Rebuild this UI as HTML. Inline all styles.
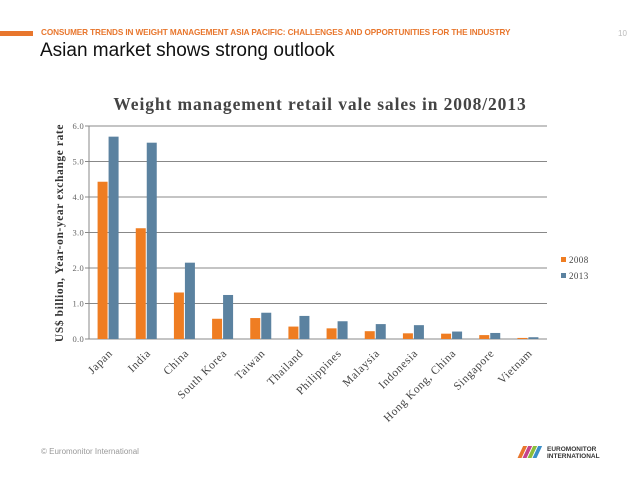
<!DOCTYPE html>
<html><head><meta charset="utf-8"><style>
body{margin:0;width:638px;height:479px;background:#fff;overflow:hidden;position:relative;font-family:"Liberation Sans",sans-serif}
.abs{position:absolute}
</style></head><body>
<div class="abs" style="left:0;top:31px;width:33px;height:5px;background:#e8762d"></div>
<div class="abs" style="left:41px;top:28px;font-size:8.2px;font-weight:bold;color:#e8762d;letter-spacing:-0.1px">CONSUMER TRENDS IN WEIGHT MANAGEMENT ASIA PACIFIC: CHALLENGES AND OPPORTUNITIES FOR THE INDUSTRY</div>
<div class="abs" style="left:618px;top:29px;font-size:8px;color:#bbb">10</div>
<div class="abs" style="left:40px;top:40px;font-size:19px;color:#111">Asian market shows strong outlook</div>
<div class="abs" style="left:41px;top:447px;font-size:8px;color:#999">© Euromonitor International</div>
<div class="abs" style="left:515px;top:442px;width:100px;height:18px">
<svg width="100" height="18"><g transform="skewX(-25)"><rect x="10" y="4" width="4" height="12" fill="#e8762d"/><rect x="15" y="4" width="4" height="12" fill="#c6438a"/><rect x="20" y="4" width="4" height="12" fill="#8bbd3a"/><rect x="25" y="4" width="4" height="12" fill="#3a8fc9"/></g>
<text x="32" y="9" font-size="6.5" font-weight="bold" fill="#333" font-family="Liberation Sans">EUROMONITOR</text><text x="32" y="16" font-size="6.5" font-weight="bold" fill="#333" font-family="Liberation Sans">INTERNATIONAL</text></svg></div>
<svg id="chart" class="abs" style="left:0;top:0" width="638" height="479"></svg>
<script>
const categories=["Japan","India","China","South Korea","Taiwan","Thailand","Philippines","Malaysia","Indonesia","Hong Kong, China","Singapore","Vietnam"];
const series2008=[4.43,3.12,1.31,0.57,0.59,0.35,0.30,0.22,0.16,0.15,0.11,0.03];
const series2013=[5.70,5.53,2.15,1.24,0.74,0.65,0.50,0.42,0.39,0.21,0.17,0.05];
const yTicks=[0,1,2,3,4,5,6];
const yLabels=["0.0","1.0","2.0","3.0","4.0","5.0","6.0"];
const svg=document.getElementById('chart');const NS='http://www.w3.org/2000/svg';
const L=89,R=547,Y0=339,Y6=126;
const y=v=>Y0+(Y6-Y0)*v/6;
const cw=(R-L)/categories.length;
const x=i=>L+cw*i;
function mk(t,a){const e=document.createElementNS(NS,t);for(const k in a)e.setAttribute(k,a[k]);svg.appendChild(e);return e;}
const tt=mk('text',{x:320,y:110,'text-anchor':'middle','font-size':'17.5','font-weight':'bold','letter-spacing':'0.9','font-family':'Liberation Serif, serif',fill:'#444'});


tt.textContent='Weight management retail vale sales in 2008/2013';
yTicks.forEach((v,i)=>{
 const g=mk('line',{x1:L-4,x2:R,y1:y(v),y2:y(v),stroke:'#888','stroke-width':1});
 
 
 const t=mk('text',{x:L-5,y:y(v)+3,'text-anchor':'end','font-size':'8.5','letter-spacing':'0.3','font-family':'Liberation Serif, serif',fill:'#666'});
 
 
 t.textContent=yLabels[i];
});
mk('line',{x1:L,x2:L,y1:Y6,y2:Y0,stroke:'#888','stroke-width':1});
const yt=mk('text',{transform:'translate(63,233) rotate(-90)','text-anchor':'middle','font-size':'11.5','font-weight':'bold','letter-spacing':'0.6','font-family':'Liberation Serif, serif',fill:'#333'});


yt.textContent='US$ billion, Year-on-year exchange rate';
categories.forEach((c,i)=>{
 const bw=11,c0=x(i)+cw/2;
 const b1=mk('rect',{x:c0-bw+0.5,y:y(series2008[i]),width:bw-1,height:Y0-y(series2008[i]),fill:'#ef7d22'});
 
 
 const b2=mk('rect',{x:c0+0.5,y:y(series2013[i]),width:bw-1,height:Y0-y(series2013[i]),fill:'#5b82a0'});
 
 
 const t=mk('text',{transform:`translate(${c0+5},${Y0+15}) rotate(-45)`,'text-anchor':'end','font-size':'11.5','letter-spacing':'0.6','font-family':'Liberation Serif, serif',fill:'#444'});
 
 
 t.textContent=c;
});
[["2008","#ef7d22",262],["2013","#5b82a0",278]].forEach(([n,col,yy])=>{
 const r=mk('rect',{x:561,y:yy-5,width:5,height:5,fill:col});
 
 
 const t=mk('text',{x:569,y:yy+1,'font-size':'9','letter-spacing':'0.4','font-family':'Liberation Serif, serif',fill:'#444'});
 
 
 t.textContent=n;
});
</script>
</body></html>
